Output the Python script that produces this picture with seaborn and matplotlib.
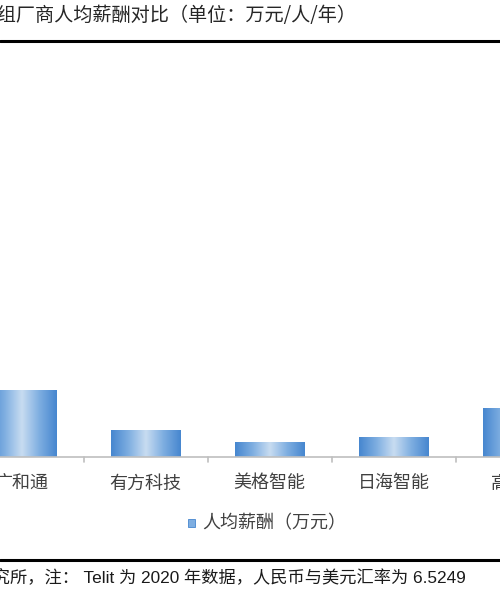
"""
海内外模组厂商人均薪酬对比 - 柱状图（截取区域）。
"""

import numpy as np
import pandas as pd
import matplotlib
matplotlib.use("Agg")
import matplotlib.pyplot as plt
import seaborn as sns
from matplotlib.colors import LinearSegmentedColormap

# 数据（单位：万元/人/年），Telit 和高新兴在截图外或部分可见
companies = ["Telit", "广和通", "有方科技", "美格智能", "日海智能", "高新兴"]
salary = [45.0, 30.0, 12.0, 6.8, 9.0, 22.0]

title_text = "图：海内外模组厂商人均薪酬对比（单位：万元/人/年）"
legend_label = "人均薪酬（万元）"
source_text = "资料来源：公司公告，研究所，注： Telit 为 2020 年数据，人民币与美元汇率为 6.5249"

sns.set_theme(style="white")
plt.rcParams['font.family'] = ['Noto Sans CJK SC', 'DejaVu Sans']

W, H = 500, 600
fig = plt.figure(figsize=(W / 100, H / 100), dpi=100)

# 坐标轴：类目中心间距约 124 像素，左右延伸出画布
n = len(companies)
step = 124.0
left_px = 21.5 - step * 1 - step / 2
base_px = 457
top_px = 45
ax = fig.add_axes([left_px / W, (H - base_px) / H, step * n / W, (base_px - top_px) / H])

df = pd.DataFrame({"company": companies, "salary": salary})
sns.barplot(data=df, x="company", y="salary", color="#5b9bd5", width=0.56,
            ax=ax, saturation=1)

# 渐变填充
cmap = LinearSegmentedColormap.from_list(
    "bar", ["#4686cf", "#7eaee1", "#c8dcf1", "#7eaee1", "#4686cf"])
grad = np.linspace(0, 1, 256).reshape(1, -1)
for p in ax.patches:
    x0, y0 = p.get_x(), p.get_y()
    w, h = p.get_width(), p.get_height()
    p.set_facecolor("none")
    p.set_edgecolor("none")
    im = ax.imshow(grad, cmap=cmap, extent=[x0, x0 + w, y0, y0 + h],
                   aspect="auto", zorder=2, interpolation="bicubic")
    im.set_clip_path(p)

ax.set_xlim(-0.5, n - 0.5)
ax.set_ylim(0, 184)

sns.despine(ax=ax, left=True, top=True, right=True)
ax.spines["bottom"].set_color("#bfbfbf")
ax.spines["bottom"].set_linewidth(1.2)
ax.set_yticks([])
ax.set_xlabel("")
ax.set_ylabel("")

# 类目分隔刻度
ax.set_xticks(np.arange(n), labels=companies)
ax.tick_params(axis="x", length=0, pad=12.5, labelsize=13, labelcolor="#404040")
for xb in np.arange(n - 1) + 0.5:
    ax.plot([xb, xb], [0, -2.2], color="#bfbfbf", lw=1.2, clip_on=False)

# 标题与分隔线
fig.text(356 / W, 1 - 15 / H, title_text, ha="right", va="center",
         fontsize=13.8, color="#262626")
fig.add_artist(plt.Line2D([0, 1], [1 - 40.5 / H, 1 - 40.5 / H],
                          color="black", lw=2.2))

# 图例
fig.patches.append(plt.Rectangle((188 / W, 1 - 527 / H), 7 / W, 8 / H,
                                 transform=fig.transFigure, facecolor="#7eaee1",
                                 edgecolor="#4686cf", lw=0.6))
fig.text(202 / W, 1 - 523 / H, legend_label, ha="left", va="center",
         fontsize=13, color="#404040")

# 底部分隔线与注释
fig.add_artist(plt.Line2D([0, 1], [1 - 560 / H, 1 - 560 / H],
                          color="black", lw=2.2))
fig.text(466 / W, 1 - 578 / H, source_text, ha="right", va="center",
         fontsize=12.4, color="#1a1a1a",
         family=['Liberation Sans', 'Noto Sans CJK SC'])

fig.savefig("out.png", dpi=100)
plt.close(fig)
